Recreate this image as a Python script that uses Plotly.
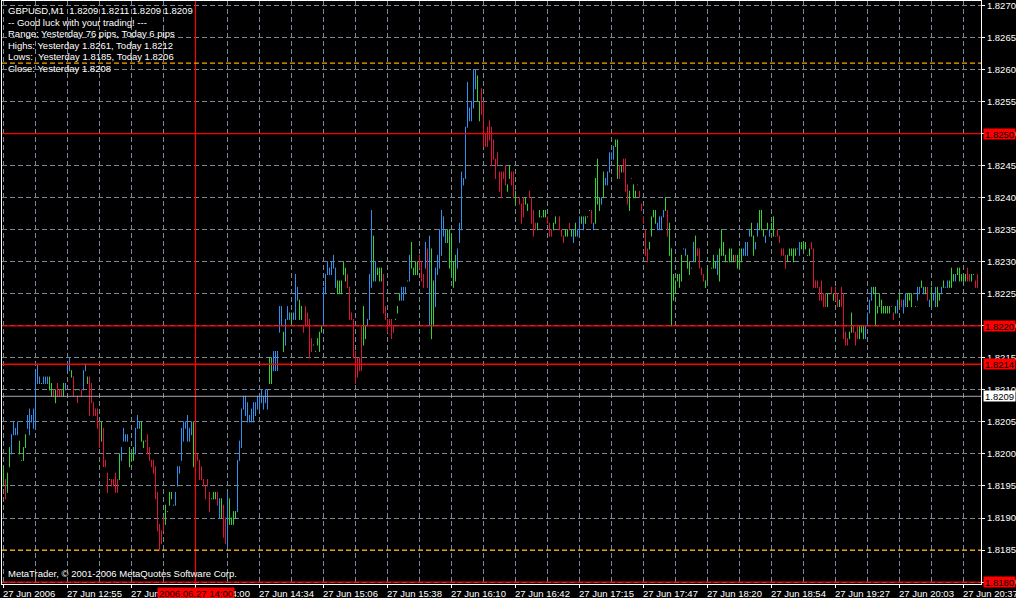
import plotly.graph_objects as go

# ---------------- data ----------------
BASE_PRICE = 1.8180   # prices below are stored as pips above this base
PIP = 0.0001

# bar highs / lows in pips above 1.8180, one bar per minute (GBPUSD M1)
high_pips = [
    18,16,17,21,23,25,24,25,22,19,21,23,26,27,26,27,
    33,34,32,31,32,32,32,32,31,30,30,31,30,30,31,31,
    34,35,33,32,30,29,30,30,33,34,32,32,31,28,27,27,
    25,25,24,19,17,16,16,16,17,16,20,21,24,23,23,21,
    20,21,24,26,25,25,22,22,23,21,19,19,18,14,9,8,
    10,12,11,14,14,12,14,18,18,24,25,25,26,24,25,25,
    23,20,19,18,16,15,16,14,13,14,14,14,13,13,12,10,
    14,13,10,11,11,19,22,27,29,29,28,26,27,28,28,29,
    29,30,29,30,30,35,35,36,36,36,43,43,39,41,43,42,
    42,42,48,46,44,43,40,43,42,41,38,37,36,38,39,40,
    46,48,50,49,50,51,49,47,47,47,50,49,48,46,42,41,
    36,35,35,40,43,40,41,48,58,54,50,49,49,49,48,43,
    41,41,41,40,41,43,45,46,46,46,47,51,53,49,50,50,
    51,50,48,53,52,54,52,47,49,51,55,58,57,55,55,55,
    54,50,51,52,56,64,63,71,78,74,75,80,80,79,75,77,
    75,70,71,72,71,69,66,67,64,64,64,65,62,65,64,64,
    61,60,60,59,60,60,59,61,60,58,56,56,58,57,58,58,
    57,56,55,56,57,55,57,55,54,55,55,56,55,55,56,55,
    57,57,57,57,57,58,58,56,63,66,60,60,64,63,64,67,
    67,68,69,69,65,65,66,66,62,61,63,62,61,62,61,59,
    57,55,52,53,57,58,58,56,57,57,58,60,58,56,52,48,
    47,48,48,51,52,52,51,50,49,53,54,52,52,49,48,47,
    49,50,49,51,50,51,52,55,53,51,50,52,52,51,51,51,
    52,52,52,53,53,55,56,54,53,56,58,58,55,54,56,55,
    56,57,54,55,54,52,52,51,51,52,52,52,52,52,53,53,
    53,53,51,52,53,52,47,47,46,47,45,45,45,45,46,45,
    46,45,44,46,45,39,38,39,42,40,39,40,40,40,40,40,
    42,44,46,46,46,43,45,44,43,43,43,43,43,42,43,44,
    45,44,44,45,45,45,45,45,43,46,46,47,46,46,46,44,
    46,45,46,46,45,46,47,46,47,47,49,48,48,49,49,48,
    48,48,49,48,48,48,47,48,47,
]
low_pips = [
    15,13,14,18,20,23,23,23,20,19,19,21,24,23,25,24,
    24,31,31,31,31,31,31,30,29,29,28,29,29,29,29,30,
    33,33,32,29,30,28,30,29,30,33,31,26,28,26,26,24,
    21,22,18,18,14,16,15,15,14,14,16,19,22,22,22,18,
    19,19,20,24,24,22,21,22,20,19,18,17,13,8,5,6,
    8,9,11,12,13,12,12,15,17,19,22,24,22,22,23,18,
    20,19,16,16,15,13,15,11,13,13,13,12,10,10,7,6,
    5,9,9,9,10,11,19,21,27,26,25,25,25,25,26,27,
    27,28,27,28,27,31,31,33,33,33,39,40,36,37,41,41,
    40,41,41,44,41,41,39,40,40,35,36,37,36,37,36,39,
    40,45,48,48,48,49,46,45,45,45,48,47,46,41,41,35,
    31,32,33,33,37,38,40,41,46,47,47,48,47,47,42,41,
    39,40,38,39,41,42,44,44,44,45,47,47,49,48,48,48,
    49,47,46,49,46,40,38,40,43,48,49,51,54,53,53,49,
    48,46,47,49,53,55,62,63,71,72,72,74,77,75,72,73,
    68,68,68,69,65,66,63,65,61,60,63,62,61,63,62,60,
    59,60,59,56,57,59,58,60,56,54,55,55,57,57,57,57,
    56,54,54,55,56,55,55,54,53,54,54,55,54,53,54,54,
    54,56,55,56,57,58,56,55,56,59,58,59,60,62,62,64,
    66,66,68,63,63,64,64,61,59,58,63,60,60,62,60,58,
    56,51,50,52,54,57,56,55,55,55,57,58,54,51,40,44,
    45,47,46,47,52,51,49,48,49,50,50,51,49,48,47,46,
    47,50,49,49,49,48,47,51,51,50,50,50,50,50,50,49,
    49,50,51,51,51,54,54,51,52,54,55,55,54,53,55,54,
    55,54,54,54,53,51,51,49,50,51,51,50,51,52,51,52,
    52,52,51,51,52,46,46,46,44,44,43,43,43,45,45,44,
    44,43,43,43,38,37,37,38,39,39,37,38,38,39,38,38,
    40,42,44,45,40,42,43,42,42,42,42,42,43,41,42,42,
    43,43,42,43,43,44,43,45,43,44,45,46,45,45,44,43,
    43,44,43,43,44,45,46,46,46,46,46,47,47,48,47,47,
    47,47,47,47,47,48,46,46,45,
]
# trend state of each bar from the colour indicator: u = up, f = flat, d = down
trend_rows = [
    "fdffuuuuffffuuuu", "uuufuuuffdfdddfu", "uufdfdfduufddddd", "dfdddfddddfuuuuf",
    "ffuuufffdddddddd", "dfffffuuuuuuuuuf", "ddddddddfffdufdd", "uffffuuuuuuuuuuu",
    "uuuuuffuuuuufuuu", "fuuuffdddddfffff", "uuuuuuufffffdddd", "ddddffuuufufffdd",
    "ddddfffuuufuffff", "ddduduffuuuuuuf", "ffffuuuuuuuuuuff", "dddddddddddddffd",
    "dfddddffddddffff", "fdddffddddffdfuf", "uufuffudufffufuu", "uuuffdfdddfdffdd",
    "ddddffffuuuufdff", "fffffuuffuufdddd", "ffffffuffffffffd", "fffuuuuffuufffuf",
    "uffddddddfffffuu", "fffffddddddddffd", "fddfddddffdddfff", "uuuufffffffffddf",
    "ufduuffffuuufufd", "ufuuffufuufffuff", "fffddffdd",
]
trend = list("".join(trend_rows))

time_tick_bars = [0, 32, 64, 96, 128, 160, 192, 224, 256, 288, 320, 352, 384, 416, 448, 480]
time_tick_labels = ["27 Jun 2006", "27 Jun 12:55", "27 Jun 13:27", "27 Jun 14:00",
                    "27 Jun 14:34", "27 Jun 15:06", "27 Jun 15:38", "27 Jun 16:10",
                    "27 Jun 16:42", "27 Jun 17:15", "27 Jun 17:47", "27 Jun 18:20",
                    "27 Jun 18:54", "27 Jun 19:27", "27 Jun 20:03", "27 Jun 20:37"]
day_separator_bar = 96
day_separator_label = "2006.06.27 14:00"

level_prices = [1.8261, 1.8250, 1.8220, 1.8214, 1.8209, 1.8185, 1.8180]
level_kinds = ["yesterday_high", "pivot", "pivot", "pivot", "bid", "yesterday_low", "pivot"]

info_lines = [
    "GBPUSD,M1\u00a0 1.8209 1.8211 1.8209 1.8209",
    "-- Good luck with your trading! ---",
    "Range: Yesterday 76 pips, Today 6 pips",
    "Highs: Yesterday 1.8261, Today 1.8212",
    "Lows:\u00a0 Yesterday 1.8185, Today 1.8206",
    "Close: Yesterday 1.8208",
]
copyright_text = "MetaTrader, \u00a9 2001-2006 MetaQuotes Software Corp."

# ---------------- styles ----------------
W, H = 1016, 598
ML, MR, MT, MB = 2, 35, 1, 14
FONT = "Liberation Sans"
GRID = "#778899"
trend_colors = {"u": "#2F8FEA", "f": "#32D232", "d": "#DC143C"}
level_styles = {
    "yesterday_high": dict(color="#FFA500", dash="5px,3px", tag=None, width=1.2),
    "yesterday_low": dict(color="#FFA500", dash="5px,3px", tag=None, width=1.2),
    "pivot": dict(color="#FF0000", dash="solid", tag=("#FF0000", "black"), width=1.3),
    "bid": dict(color="#A8A8B0", dash="solid", tag=("white", "black"), width=1),
}

y_lo, y_hi = 1.81797, 1.82707
half_px = (y_hi - y_lo) / (H - MT - MB) / 2.0

fig = go.Figure()
for code, col in trend_colors.items():
    xs, ys = [], []
    for i, (hp, lp, t) in enumerate(zip(high_pips, low_pips, trend)):
        if t != code:
            continue
        hi = BASE_PRICE + hp * PIP
        lo = BASE_PRICE + lp * PIP
        xs += [i, i, None]
        ys += [lo - half_px, hi + half_px, None]
    fig.add_trace(go.Scatter(x=xs, y=ys, mode="lines", line=dict(color=col, width=1),
                             hoverinfo="skip", showlegend=False))

shapes = []
annotations = []
# vertical day separator
shapes.append(dict(type="line", xref="x", yref="paper", x0=day_separator_bar, x1=day_separator_bar,
                   y0=0, y1=1, line=dict(color="#FF0000", width=1.2)))
# price levels
for p, kind in zip(level_prices, level_kinds):
    st = level_styles[kind]
    shapes.append(dict(type="line", xref="paper", yref="y", x0=0, x1=1, y0=p, y1=p,
                       line=dict(color=st["color"], width=st["width"], dash=st["dash"])))
    if st["tag"]:
        bg, fg = st["tag"]
        annotations.append(dict(xref="paper", yref="y", x=1, y=p, xanchor="left", yanchor="middle",
                                xshift=2, text=f"{p:.4f}", showarrow=False, bgcolor=bg,
                                font=dict(family=FONT, size=9.5, color=fg),
                                width=31, height=10, borderpad=0))
# info text
for k, line in enumerate(info_lines):
    annotations.append(dict(xref="paper", yref="paper", x=0, y=1, xanchor="left", yanchor="middle",
                            xshift=4, yshift=-(9.5 + 11.6 * k), text=line, showarrow=False,
                            font=dict(family=FONT, size=9.5, color="white")))
annotations.append(dict(xref="paper", yref="paper", x=0, y=0, xanchor="left", yanchor="middle",
                        xshift=4, yshift=11, text=copyright_text, showarrow=False,
                        font=dict(family=FONT, size=9.5, color="white")))
# time labels
for b, lab in zip(time_tick_bars, time_tick_labels):
    annotations.append(dict(xref="x", yref="paper", x=b, y=0, xanchor="left", yanchor="middle",
                            xshift=-3, yshift=-9, text=lab, showarrow=False,
                            font=dict(family=FONT, size=9.5, color="white")))
annotations.append(dict(xref="x", yref="paper", x=day_separator_bar, y=0, xanchor="center",
                        yanchor="middle", yshift=-9, text=day_separator_label, showarrow=False,
                        bgcolor="#FF0000", width=76, height=11, borderpad=0,
                        font=dict(family=FONT, size=9.5, color="black")))

fig.update_layout(
    width=W, height=H, margin=dict(l=ML, r=MR, t=MT, b=MB),
    paper_bgcolor="black", plot_bgcolor="black", showlegend=False,
    shapes=shapes, annotations=annotations,
    xaxis=dict(range=[-0.75, len(high_pips) - 0.25], tickmode="linear", tick0=0, dtick=32,
               showticklabels=False, ticks="outside", ticklen=3, tickcolor="white",
               showgrid=True, gridcolor=GRID, griddash="5px,3px", gridwidth=1,
               minor=dict(tick0=0, dtick=16, showgrid=True, gridcolor=GRID, griddash="5px,3px", ticks=""),
               showline=True, linecolor="white", linewidth=1, mirror=True, zeroline=False),
    yaxis=dict(range=[y_lo, y_hi], side="right", tickmode="linear", tick0=1.8180, dtick=0.0005,
               tickformat=".4f", ticks="outside", ticklen=3, tickcolor="white",
               ticklabeloverflow="allow",
               tickfont=dict(family=FONT, size=9.5, color="white"),
               showgrid=True, gridcolor=GRID, griddash="5px,3px", gridwidth=1,
               showline=True, linecolor="white", linewidth=1, mirror=True, zeroline=False),
)

fig.write_html("out.html", config={"displayModeBar": False},
               post_script="document.body.style.margin='0';document.body.style.background='black';"
                           "document.body.style.overflow='hidden';")
